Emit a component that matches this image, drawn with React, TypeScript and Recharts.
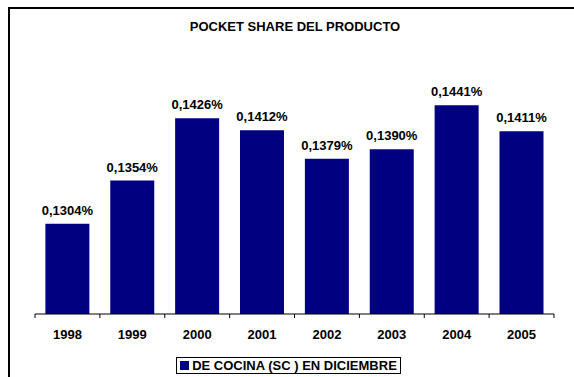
import React from 'react'
import { BarChart, Bar, XAxis, YAxis, LabelList, Legend } from 'recharts'

const years = ['1998', '1999', '2000', '2001', '2002', '2003', '2004', '2005']
const share = [0.1304, 0.1354, 0.1426, 0.1412, 0.1379, 0.139, 0.1441, 0.1411]
const seriesName = 'DE COCINA (SC ) EN DICIEMBRE'
const chartTitle = 'POCKET SHARE DEL PRODUCTO'

const data = years.map((year, i) => ({ year, share: share[i] }))

const font = '"Liberation Sans", Arial, sans-serif'
const navy = '#000080'

const formatPct = (v: number) => v.toFixed(4).replace('.', ',') + '%'

// Excel style: tick marks on the category edges, not the centres
const EdgeTick = (props: any) => {
  const { x, y, payload, index } = props
  const half = payload?.offset ?? 32.4
  const last = index === years.length - 1
  return (
    <g>
      <line x1={x - half} y1={y - 8} x2={x - half} y2={y - 4} stroke="#000" />
      {last && <line x1={x + half} y1={y - 8} x2={x + half} y2={y - 4} stroke="#000" />}
      <text x={x} y={y + 17} textAnchor="middle" fontSize={13} fontWeight="bold" fontFamily={font} fill="#000">
        {payload.value}
      </text>
    </g>
  )
}

const LegendBox = () => (
  <div style={{ display: 'flex', justifyContent: 'center', paddingRight: 12 }}>
    <div
      style={{
        display: 'flex', alignItems: 'center', border: '1px solid #000', padding: '0px 3px',
        fontFamily: font, fontSize: 13, fontWeight: 'bold', color: '#000', lineHeight: '15px',
      }}
    >
      <span style={{ width: 9, height: 9, background: navy, marginRight: 3, display: 'inline-block' }} />
      {seriesName}
    </div>
  </div>
)

export default function App() {
  return (
    <div style={{ position: 'fixed', left: 0, top: 0, width: 574, height: 377, background: '#fff', overflow: 'hidden' }}>
      <div
        style={{
          position: 'absolute', left: 8, top: 7, width: 700, height: 500,
          borderLeft: '2px solid #000', borderTop: '2px solid #000',
        }}
      />
      <div
        style={{
          position: 'absolute', left: 0, top: 19, width: 590, textAlign: 'center',
          fontFamily: font, fontSize: 13, fontWeight: 'bold', color: '#000',
        }}
      >
        {chartTitle}
      </div>
      <div style={{ position: 'absolute', left: 0, top: 0 }}>
        <BarChart width={574} height={377} data={data} margin={{ top: 54, right: 20, bottom: 3, left: 35 }} barCategoryGap="16%">
          <XAxis
            dataKey="year"
            axisLine={{ stroke: '#000' }}
            tickLine={false}
            tick={<EdgeTick />}
            height={43}
            interval={0}
          />
          <YAxis hide domain={[0.12, 0.15]} allowDataOverflow />
          <Legend verticalAlign="bottom" height={17} content={<LegendBox />} />
          <Bar dataKey="share" name={seriesName} fill={navy} isAnimationActive={false}>
            <LabelList
              dataKey="share"
              position="top"
              offset={9}
              formatter={(v: any) => formatPct(Number(v))}
              style={{ fontFamily: font, fontSize: 13, fontWeight: 'bold', fill: '#000' }}
            />
          </Bar>
        </BarChart>
      </div>
    </div>
  )
}
